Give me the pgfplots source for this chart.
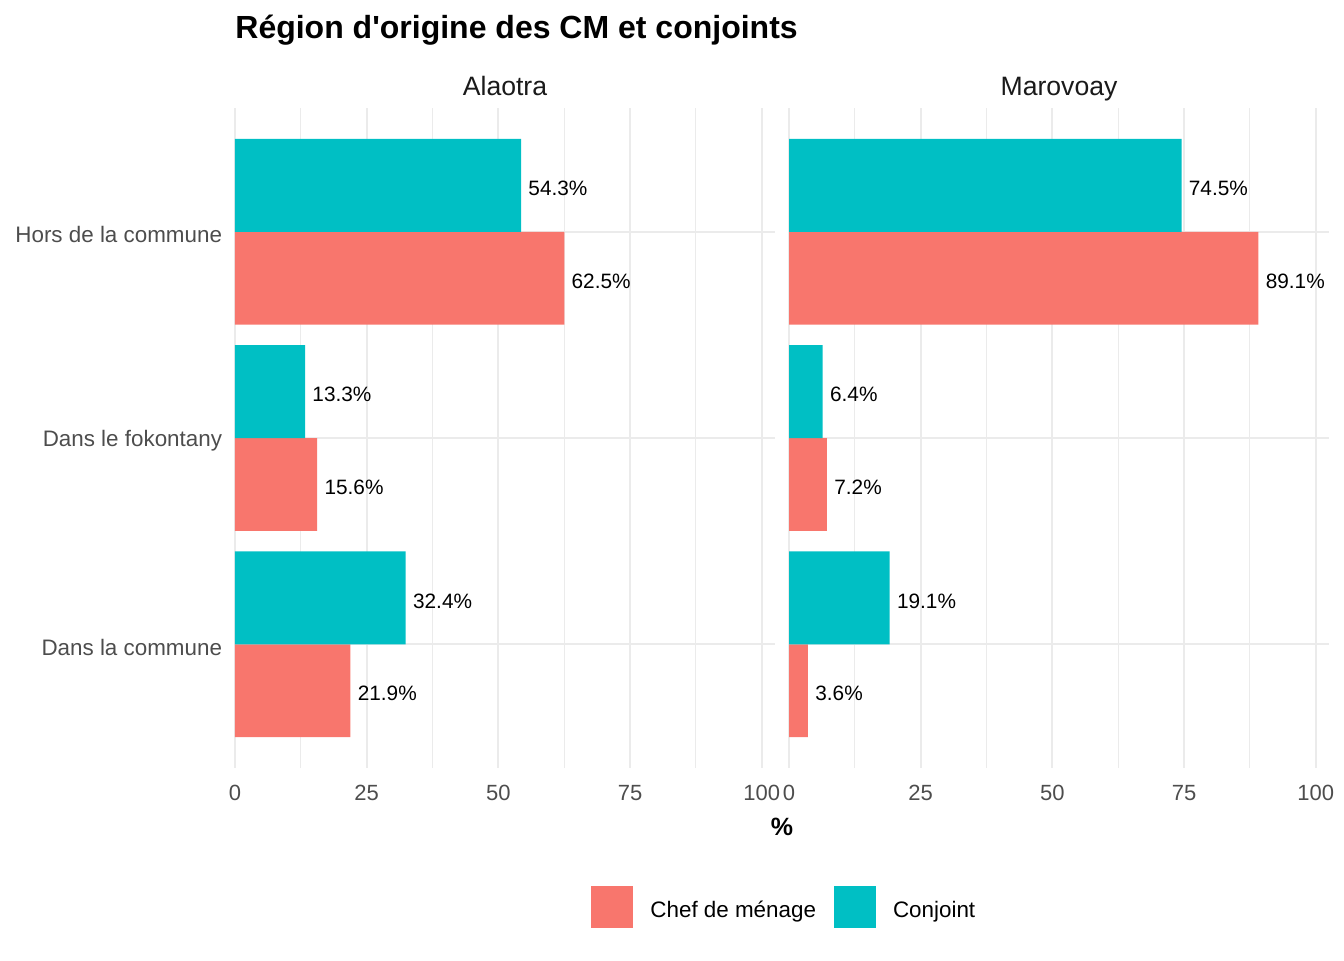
\documentclass[border=0pt]{standalone}
\usepackage{fontspec}
\setmainfont{Liberation Sans}
\usepackage{pgfplots}
\pgfplotsset{compat=1.18}
\definecolor{chef}{HTML}{F8766D}
\definecolor{conj}{HTML}{00BFC4}
\definecolor{gridc}{HTML}{EBEBEB}
\definecolor{ticktxt}{HTML}{4D4D4D}
\definecolor{striptxt}{HTML}{1A1A1A}

\pgfplotsset{
  panel/.style={
    xbar, scale only axis, width=270pt, height=330pt,
    xmin=0, xmax=102.5, ymin=0.4, ymax=3.6,
    xtick={0,25,50,75,100}, minor x tick num=1,
    ytick={1,2,3},
    xmajorgrids, xminorgrids, ymajorgrids,
    major grid style={gridc, line width=1pt},
    minor grid style={gridc, line width=0.5pt},
    axis line style={draw=none},
    tick style={draw=none},
    bar width=0.45,
    /pgf/number format/assume math mode=true,
    xticklabel style={font=\fontsize{11}{13}\selectfont, text=ticktxt, inner sep=0pt, anchor=north, yshift=-8.5pt},
    yticklabel style={font=\fontsize{11.2}{13}\selectfont, text=ticktxt, inner sep=0pt, anchor=east, xshift=-2pt, yshift=-1.5pt},
    point meta=x,
    nodes near coords={\pgfmathprintnumber[fixed,fixed zerofill,precision=1]{\pgfplotspointmeta}\%},
    every node near coord/.append style={font=\fontsize{10.4}{12}\selectfont, text=black, anchor=west, inner sep=0pt, xshift=3.5pt, yshift=-1.5pt},
  },
  keybox/.style={legend image code/.code={\fill[##1] (0pt,-8.5pt) rectangle (21pt,12.5pt);}},
}

\begin{document}
\begin{tikzpicture}
\path[use as bounding box] (0,0) rectangle (672pt,-480pt);

\begin{axis}[panel, at={(117.5pt,-384pt)}, anchor=south west,
    yticklabels={Dans la commune, Dans le fokontany, Hors de la commune},
    legend columns=2,
    legend style={at={(0.6593,-0.2106)}, anchor=west, draw=none, fill=none,
      inner sep=0pt, font=\fontsize{11.2}{13}\selectfont,
      /tikz/every odd column/.append style={column sep=6.5pt},
      /tikz/every even column/.append style={column sep=7pt}},
    legend cell align=left]
  \addplot[fill=chef, draw=none, bar shift=-0.225, keybox] coordinates {(21.9,1) (15.6,2) (62.5,3)};
  \addplot[fill=conj, draw=none, bar shift=0.225, keybox] coordinates {(32.4,1) (13.3,2) (54.3,3)};
  \legend{Chef de ménage, Conjoint}
\end{axis}

\begin{axis}[panel, at={(394.5pt,-384pt)}, anchor=south west, yticklabels={}]
  \addplot[fill=chef, draw=none, bar shift=-0.225] coordinates {(3.6,1) (7.2,2) (89.1,3)};
  \addplot[fill=conj, draw=none, bar shift=0.225] coordinates {(19.1,1) (6.4,2) (74.5,3)};
\end{axis}

\node[anchor=base west, inner sep=0pt, font=\bfseries\fontsize{16}{19}\selectfont] at (117.5pt,-19pt) {Région d\textquotesingle origine des CM et conjoints};
\node[anchor=base, text=striptxt, font=\fontsize{13.3}{16}\selectfont] at (252.5pt,-47.5pt) {Alaotra};
\node[anchor=base, text=striptxt, font=\fontsize{13.3}{16}\selectfont] at (529.5pt,-47.5pt) {Marovoay};
\node[anchor=base, font=\bfseries\fontsize{12.5}{15}\selectfont] at (391pt,-417.5pt) {\%};
\end{tikzpicture}
\end{document}
